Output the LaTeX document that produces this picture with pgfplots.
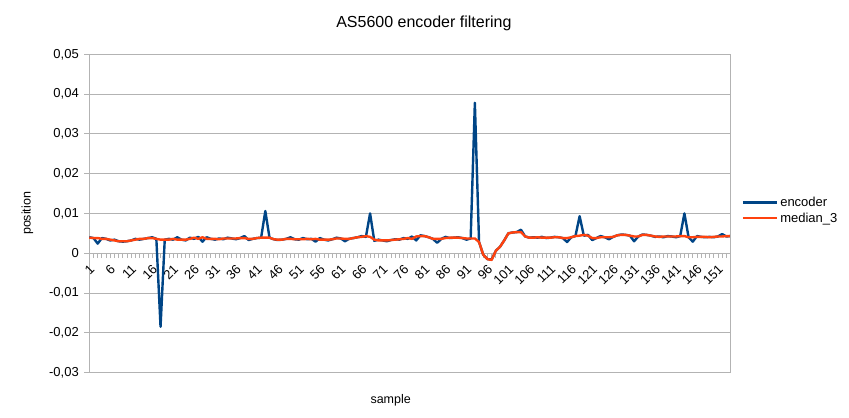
\documentclass[border=0pt]{standalone}
\usepackage{pgfplots}
\usepackage{pgfplotstable}
\pgfplotsset{compat=1.18}
\usepackage{fontspec}
\setmainfont{Liberation Sans}
\definecolor{encblue}{HTML}{004586}
\definecolor{medorange}{HTML}{FF420E}
\definecolor{axgray}{HTML}{B3B3B3}
\pgfplotstableread{
n enc med
1 0.0040 0.0039
2 0.0038 0.0038
3 0.0024 0.0038
4 0.0038 0.0036
5 0.0036 0.0036
6 0.0032 0.0034
7 0.0034 0.0032
8 0.0030 0.0030
9 0.0029 0.0030
10 0.0030 0.0030
11 0.0032 0.0032
12 0.0036 0.0034
13 0.0034 0.0036
14 0.0036 0.0036
15 0.0038 0.0038
16 0.0040 0.0038
17 0.0036 0.0036
18 -0.0185 0.0034
19 0.0034 0.0034
20 0.0036 0.0034
21 0.0034 0.0036
22 0.0040 0.0034
23 0.0034 0.0034
24 0.0032 0.0034
25 0.0039 0.0036
26 0.0036 0.0039
27 0.0041 0.0036
28 0.0029 0.0040
29 0.0040 0.0036
30 0.0036 0.0036
31 0.0034 0.0036
32 0.0037 0.0035
33 0.0035 0.0037
34 0.0039 0.0037
35 0.0037 0.0037
36 0.0035 0.0037
37 0.0038 0.0038
38 0.0043 0.0038
39 0.0033 0.0036
40 0.0036 0.0036
41 0.0038 0.0038
42 0.0039 0.0039
43 0.0106 0.0039
44 0.0039 0.0039
45 0.0035 0.0035
46 0.0033 0.0034
47 0.0034 0.0034
48 0.0036 0.0036
49 0.0040 0.0036
50 0.0035 0.0035
51 0.0034 0.0035
52 0.0038 0.0035
53 0.0035 0.0036
54 0.0036 0.0035
55 0.0029 0.0036
56 0.0038 0.0034
57 0.0034 0.0034
58 0.0032 0.0034
59 0.0035 0.0035
60 0.0039 0.0037
61 0.0037 0.0037
62 0.0030 0.0036
63 0.0036 0.0036
64 0.0038 0.0038
65 0.0040 0.0040
66 0.0043 0.0041
67 0.0041 0.0043
68 0.0100 0.0041
69 0.0031 0.0034
70 0.0034 0.0032
71 0.0032 0.0032
72 0.0030 0.0032
73 0.0033 0.0033
74 0.0035 0.0034
75 0.0034 0.0035
76 0.0038 0.0036
77 0.0036 0.0038
78 0.0042 0.0036
79 0.0032 0.0042
80 0.0045 0.0043
81 0.0043 0.0043
82 0.0040 0.0040
83 0.0036 0.0036
84 0.0026 0.0036
85 0.0036 0.0036
86 0.0041 0.0038
87 0.0038 0.0039
88 0.0039 0.0039
89 0.0040 0.0039
90 0.0038 0.0038
91 0.0034 0.0037
92 0.0037 0.0037
93 0.0378 0.0037
94 0.0028 0.0028
95 -0.0004 -0.0004
96 -0.0015 -0.0015
97 -0.0016 -0.0017
98 0.0006 0.0006
99 0.0016 0.0016
100 0.0032 0.0032
101 0.0050 0.0050
102 0.0052 0.0052
103 0.0053 0.0053
104 0.0059 0.0053
105 0.0042 0.0042
106 0.0039 0.0039
107 0.0040 0.0039
108 0.0039 0.0040
109 0.0041 0.0039
110 0.0038 0.0039
111 0.0039 0.0039
112 0.0041 0.0040
113 0.0040 0.0040
114 0.0038 0.0038
115 0.0028 0.0038
116 0.0040 0.0040
117 0.0043 0.0043
118 0.0093 0.0044
119 0.0044 0.0046
120 0.0046 0.0044
121 0.0033 0.0038
122 0.0038 0.0038
123 0.0043 0.0040
124 0.0040 0.0040
125 0.0035 0.0040
126 0.0041 0.0041
127 0.0045 0.0045
128 0.0047 0.0046
129 0.0046 0.0046
130 0.0044 0.0044
131 0.0030 0.0042
132 0.0042 0.0042
133 0.0047 0.0046
134 0.0046 0.0046
135 0.0044 0.0044
136 0.0041 0.0042
137 0.0042 0.0041
138 0.0040 0.0042
139 0.0043 0.0042
140 0.0042 0.0042
141 0.0040 0.0042
142 0.0043 0.0043
143 0.0100 0.0043
144 0.0040 0.0040
145 0.0029 0.0040
146 0.0043 0.0041
147 0.0041 0.0041
148 0.0040 0.0041
149 0.0041 0.0040
150 0.0040 0.0041
151 0.0042 0.0042
152 0.0048 0.0042
153 0.0042 0.0043
154 0.0043 0.0043
}\datatable
\begin{document}
\begin{tikzpicture}
\useasboundingbox (0,0) rectangle (849bp,418bp);
\begin{axis}[
  at={(89.3bp,45.5bp)}, anchor=south west,
  scale only axis, width=641.2bp, height=318.2bp,
  xmin=1, xmax=154, ymin=-0.03, ymax=0.05,
  scaled y ticks=false,
  axis x line*=middle, axis y line*=left,
  hide obscured x ticks=false,
  axis line style={-, draw=axgray, line width=0.8bp},
  tick style={draw=axgray, line width=0.8bp},
  tick align=outside,
  major tick length=5bp, minor tick length=5bp,
  xtick={1,6,...,151},
  minor xtick={1,...,154},
  ytick={-0.03,-0.02,-0.01,0,0.01,0.02,0.03,0.04,0.05},
  yticklabels={{-0,03},{-0,02},{-0,01},0,{0,01},{0,02},{0,03},{0,04},{0,05}},
  /pgf/number format/assume math mode=true,
  xticklabel style={rotate=45, anchor=east, font=\fontsize{13bp}{15bp}\selectfont, inner sep=1bp, yshift=-8bp, xshift=-3bp},
  yticklabel style={font=\fontsize{13bp}{15bp}\selectfont, xshift=-2bp},
  ymajorgrids,
  grid style={draw=axgray, line width=0.8bp},
  xlabel={sample},
  xlabel style={at={(axis description cs:0.47,0)}, anchor=center, yshift=-28bp, font=\fontsize{12.5bp}{14bp}\selectfont},
  ylabel={position},
  ylabel style={at={(axis description cs:0,0.5)}, anchor=center, yshift=62bp, font=\fontsize{12.5bp}{14bp}\selectfont},
  title={AS5600 encoder filtering},
  title style={at={(axis description cs:0.5,1)}, anchor=center, yshift=25bp, xshift=14bp, font=\fontsize{16bp}{18bp}\selectfont},
  legend style={at={(1,0.51)}, anchor=west, draw=none, fill=none, xshift=8bp,
    font=\fontsize{13bp}{15bp}\selectfont, row sep=1bp,
    legend cell align=left},
  legend image code/.code={\draw[#1, line width=2.6bp] (0bp,0bp) -- (34bp,0bp);},
  after end axis/.code={\draw[axgray, line width=0.8bp] (rel axis cs:1,0) -- (rel axis cs:1,1);},
  clip=false,
]
\addplot[encblue, line width=2.4bp, line join=round] table[x=n, y=enc] {\datatable};
\addlegendentry{encoder}
\addplot[medorange, line width=2.4bp, line join=round] table[x=n, y=med] {\datatable};
\addlegendentry{median\_3}
\end{axis}
\end{tikzpicture}
\end{document}
